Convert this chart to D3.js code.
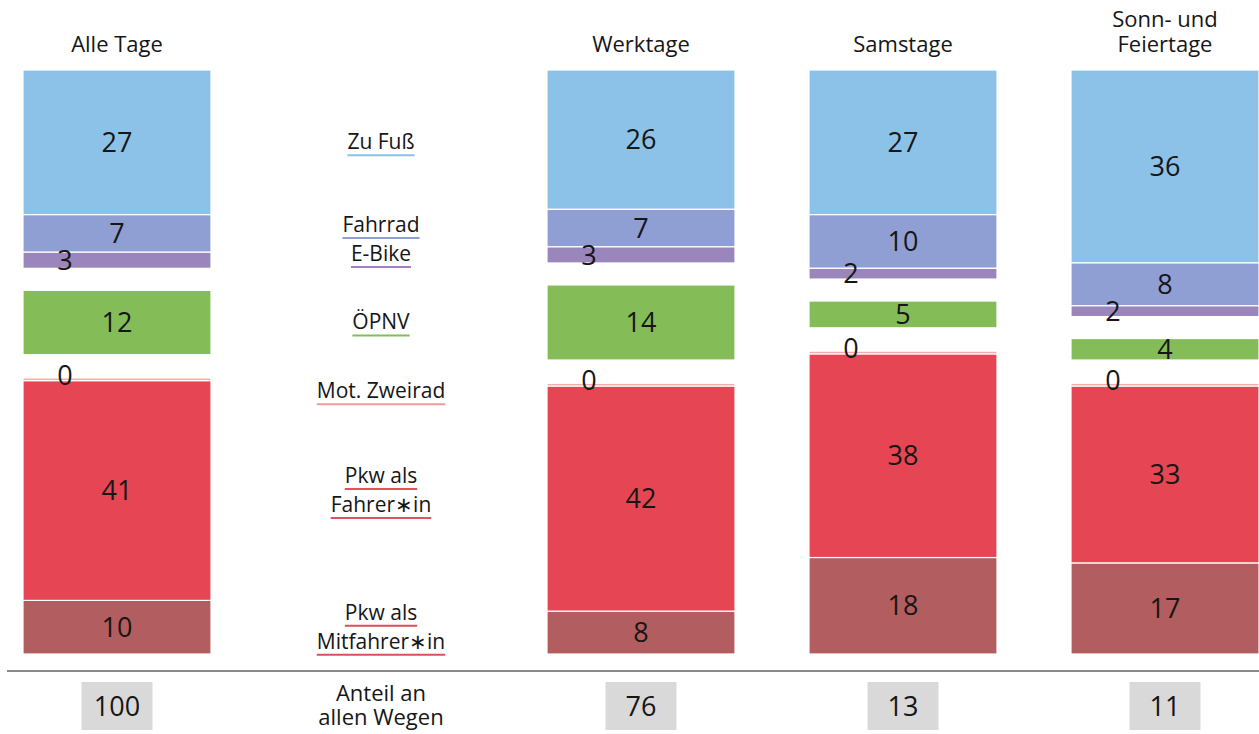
<!DOCTYPE html>
<html>
<head>
<meta charset="utf-8">
<script src="https://cdn.jsdelivr.net/npm/d3@7/dist/d3.min.js"></script>
<style>
  html, body { margin: 0; padding: 0; background: #fff; }
  svg { display: block; font-family: "Open Sans", "Noto Sans", sans-serif; }
</style>
</head>
<body>
<svg id="chart" width="1259" height="734"></svg>
<script>
// ---------- data ----------
const columns = ["Alle Tage", "Werktage", "Samstage", "Sonn- und Feiertage"];
const columnHeaderLines = [["Alle Tage"], ["Werktage"], ["Samstage"], ["Sonn- und", "Feiertage"]];
const categories = ["Zu Fuß", "Fahrrad", "E-Bike", "ÖPNV", "Mot. Zweirad", "Pkw als Fahrer*in", "Pkw als Mitfahrer*in"];
const zuFuss       = [27, 26, 27, 36];
const fahrrad      = [7, 7, 10, 8];
const eBike        = [3, 3, 2, 2];
const oepnv        = [12, 14, 5, 4];
const motZweirad   = [0.5, 0.5, 0.5, 0.5]; // shown as "0"
const pkwFahrer    = [41, 42, 38, 33];
const pkwMitfahrer = [10, 8, 18, 17];
const shareOfTrips = [100, 76, 13, 11];
const shareLabel   = ["Anteil an", "allen Wegen"];

// ---------- styles ----------
const colors = {
  "Zu Fuß": "#8cc2e8",
  "Fahrrad": "#8f9fd3",
  "E-Bike": "#9a86ba",
  "ÖPNV": "#84bd57",
  "Mot. Zweirad": "#f3acac",
  "Pkw als Fahrer*in": "#e64653",
  "Pkw als Mitfahrer*in": "#b25e60"
};
const underlineColors = {
  "Zu Fuß": "#8cc2e8",
  "Fahrrad": "#8f9fd3",
  "E-Bike": "#a77fc0",
  "ÖPNV": "#84bd57",
  "Mot. Zweirad": "#f29a9c",
  "Pkw als Fahrer*in": "#e0525e",
  "Pkw als Mitfahrer*in": "#d9505c"
};
const textColor = "#161616";

const seriesByCat = {
  "Zu Fuß": zuFuss, "Fahrrad": fahrrad, "E-Bike": eBike, "ÖPNV": oepnv,
  "Mot. Zweirad": motZweirad, "Pkw als Fahrer*in": pkwFahrer, "Pkw als Mitfahrer*in": pkwMitfahrer
};
const topGroup = ["Zu Fuß", "Fahrrad", "E-Bike"];
const midGroup = ["ÖPNV"];
const bottomGroup = ["Mot. Zweirad", "Pkw als Fahrer*in", "Pkw als Mitfahrer*in"];

const svg = d3.select("#chart");

// slots: column 0, label slot, columns 1..3
const slots = ["c0", "labels", "c1", "c2", "c3"];
const x = d3.scaleBand().domain(slots).range([23, 1259]).paddingInner(74 / 262).paddingOuter(0);
const colSlot = i => (i === 0 ? "c0" : "c" + i);
const bw = x.bandwidth();
const labelX = x("labels") + bw / 2 + 2;

const plotTop = 70, plotBottom = 654, groupGap = 22;
const h = d3.scaleLinear().domain([0, 100]).range([0, 536]);

// compute segments
const segments = [];
columns.forEach((col, i) => {
  let y = plotTop;
  topGroup.forEach(cat => {
    const v = seriesByCat[cat][i];
    segments.push({ col: i, cat, v, y0: y, y1: y + h(v) });
    y += h(v);
  });
  y += groupGap;
  midGroup.forEach(cat => {
    const v = seriesByCat[cat][i];
    segments.push({ col: i, cat, v, y0: y, y1: y + h(v) });
    y += h(v);
  });
  let yb = plotBottom;
  bottomGroup.slice().reverse().forEach(cat => {
    const v = seriesByCat[cat][i];
    segments.push({ col: i, cat, v, y0: yb - h(v), y1: yb });
    yb -= h(v);
  });
});

// bars
svg.append("g").selectAll("rect").data(segments).join("rect")
  .attr("x", d => x(colSlot(d.col)))
  .attr("width", bw)
  .attr("y", d => d.y0)
  .attr("height", d => d.y1 - d.y0)
  .attr("fill", d => colors[d.cat])
  .attr("stroke", "#ffffff")
  .attr("stroke-width", 1.2);

// value labels
svg.append("g").selectAll("text").data(segments).join("text")
  .attr("x", d => {
    const small = (d.y1 - d.y0) < 18;
    return small ? x(colSlot(d.col)) + 42 : x(colSlot(d.col)) + bw / 2;
  })
  .attr("y", d => {
    const hh = d.y1 - d.y0;
    const off = hh < 6 ? -4 : 0;
    return (d.y0 + d.y1) / 2 + off;
  })
  .attr("dy", "0.36em")
  .attr("text-anchor", "middle")
  .attr("font-size", 27)
  .attr("fill", textColor)
  .text(d => Math.floor(d.v));

// column headers (one text element per header, lines as tspans)
columns.forEach((col, i) => {
  const lines = columnHeaderLines[i];
  const cx = x(colSlot(i)) + bw / 2;
  const t = svg.append("text")
    .attr("text-anchor", "middle")
    .attr("font-size", 22)
    .attr("fill", textColor);
  lines.forEach((ln, j) => {
    t.append("tspan")
      .attr("x", cx)
      .attr("y", 52 - (lines.length - 1 - j) * 25)
      .text(ln);
  });
});

// middle category labels (positioned from the "Alle Tage" column segments)
const seg0 = cat => segments.find(s => s.col === 0 && s.cat === cat);
const lineH = 29;
function labelBlock(lines, centerY, cats) {
  const n = lines.length;
  lines.forEach((ln, j) => {
    const baseline = centerY + 7 + (j - (n - 1) / 2) * lineH;
    const t = svg.append("text")
      .attr("x", labelX)
      .attr("y", baseline)
      .attr("text-anchor", "middle")
      .attr("font-size", 21)
      .attr("fill", textColor)
      .text(ln);
    const w = t.node().getComputedTextLength();
    svg.append("line")
      .attr("x1", labelX - w / 2).attr("x2", labelX + w / 2)
      .attr("y1", baseline + 6).attr("y2", baseline + 6)
      .attr("stroke", underlineColors[cats[j]])
      .attr("stroke-width", 2);
  });
}
const mid = cat => (seg0(cat).y0 + seg0(cat).y1) / 2;
labelBlock(["Zu Fuß"], mid("Zu Fuß"), ["Zu Fuß"]);
labelBlock(["Fahrrad", "E-Bike"], (seg0("Fahrrad").y0 + seg0("E-Bike").y1) / 2 - 2, ["Fahrrad", "E-Bike"]);
labelBlock(["ÖPNV"], mid("ÖPNV"), ["ÖPNV"]);
labelBlock(["Mot. Zweirad"], mid("Mot. Zweirad") + 12, ["Mot. Zweirad"]);
labelBlock(["Pkw als", "Fahrer∗in"], mid("Pkw als Fahrer*in"), ["Pkw als Fahrer*in", "Pkw als Fahrer*in"]);
labelBlock(["Pkw als", "Mitfahrer∗in"], mid("Pkw als Mitfahrer*in"), ["Pkw als Mitfahrer*in", "Pkw als Mitfahrer*in"]);

// separator line
svg.append("line")
  .attr("x1", 7).attr("x2", 1259)
  .attr("y1", 671).attr("y2", 671)
  .attr("stroke", "#8a8a8a").attr("stroke-width", 2);

// share boxes
const boxW = 71, boxH = 48, boxY = 682;
const boxes = svg.append("g").selectAll("g").data(shareOfTrips).join("g");
boxes.append("rect")
  .attr("x", (d, i) => x(colSlot(i)) + bw / 2 - boxW / 2)
  .attr("y", boxY)
  .attr("width", boxW).attr("height", boxH)
  .attr("fill", "#d9d9d9");
boxes.append("text")
  .attr("x", (d, i) => x(colSlot(i)) + bw / 2)
  .attr("y", boxY + boxH / 2)
  .attr("dy", "0.36em")
  .attr("text-anchor", "middle")
  .attr("font-size", 27)
  .attr("fill", textColor)
  .text(d => d);

const shareText = svg.append("text")
  .attr("text-anchor", "middle")
  .attr("font-size", 22)
  .attr("fill", textColor);
shareLabel.forEach((ln, j) => {
  shareText.append("tspan")
    .attr("x", labelX)
    .attr("y", 701 + j * 24)
    .text(ln);
});
</script>
</body>
</html>
